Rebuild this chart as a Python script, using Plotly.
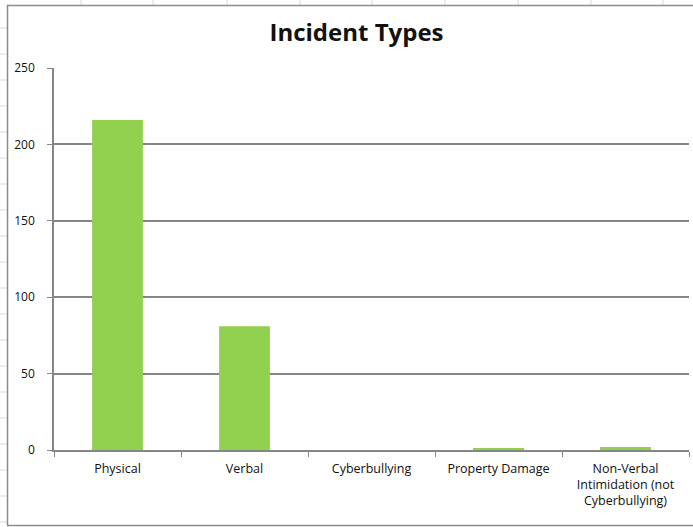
import plotly.graph_objects as go

categories = ["Physical", "Verbal", "Cyberbullying", "Property Damage",
              "Non-Verbal<br>Intimidation (not<br>Cyberbullying)"]
counts = [216, 81, 0, 1, 2]
y_ticks = [0, 50, 100, 150, 200, 250]

W, H = 693, 527
L, R, T, B = 54, 4, 68, 77
pw, ph = W - L - R, H - T - B


def px(x):
    return (x - L) / pw


def py(y):
    return (H - B - y) / ph


fig = go.Figure(go.Bar(x=categories, y=counts, marker_color="#92D050",
                       marker_line_width=0))

shapes = []
# spreadsheet backdrop (decoration)
for yy in range(28, 527, 26):
    shapes.append(dict(type="line", xref="paper", yref="paper", x0=px(0), x1=px(7),
                       y0=py(yy), y1=py(yy), line=dict(color="#D9D9D9", width=1), layer="below"))
for xx in [81, 153, 227, 300, 372, 445, 518, 591, 663]:
    shapes.append(dict(type="line", xref="paper", yref="paper", x0=px(xx), x1=px(xx),
                       y0=py(0), y1=py(5), line=dict(color="#D9D9D9", width=1), layer="below"))
# chart frame
shapes.append(dict(type="rect", xref="paper", yref="paper", x0=px(7.5), x1=px(700),
                   y0=py(5.5), y1=py(525.5), line=dict(color="#8C8C8C", width=1.5),
                   fillcolor="rgba(0,0,0,0)", layer="below"))

fig.update_layout(
    width=W, height=H,
    margin=dict(l=L, r=R, t=T, b=B, pad=0),
    paper_bgcolor="white", plot_bgcolor="white",
    title=dict(text="<b>Incident Types</b>", x=(270 + 443) / 2 / W, xanchor="center",
               y=1 - 33 / H, yanchor="middle",
               font=dict(family="Open Sans", size=24, color="#111111")),
    bargap=0.6,
    showlegend=False,
    shapes=shapes,
    font=dict(family="Open Sans", color="#111111"),
)
fig.update_xaxes(
    type="category", tickson="boundaries", ticks="outside", ticklen=5,
    tickcolor="#868686", showline=True, linecolor="#868686", linewidth=1.5,
    tickfont=dict(size=12.5), showgrid=False, ticklabelstandoff=6,
)
fig.update_yaxes(
    range=[0, 250], tickvals=y_ticks, ticks="outside", ticklen=5,
    tickcolor="#868686", showline=True, linecolor="#868686", linewidth=1.5,
    showgrid=True, gridcolor="#868686", gridwidth=1.5, zeroline=False,
    tickfont=dict(size=12), ticklabelstandoff=10,
)

fig.write_html("out.html", config={"displayModeBar": False},
               post_script="document.body.style.margin='0';")
